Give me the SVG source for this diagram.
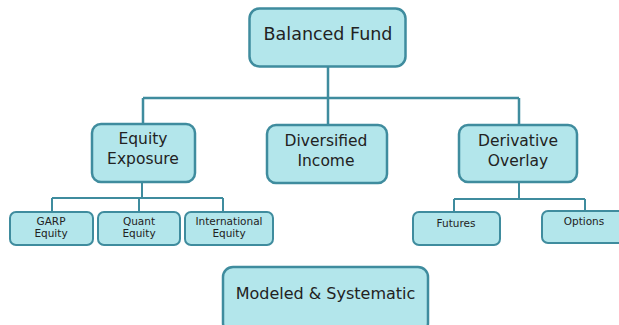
<svg xmlns="http://www.w3.org/2000/svg" width="619" height="325" viewBox="0 0 619 325">
<style>
.box{fill:#b3e6eb;stroke:#3f8c9e;stroke-width:2.5}
.sbox{fill:#b3e6eb;stroke:#3f8c9e;stroke-width:2}
.ln{fill:none;stroke:#3f8c9e;stroke-width:2.5}
.sln{fill:none;stroke:#3f8c9e;stroke-width:2}
text{font-family:"DejaVu Sans",Verdana,sans-serif;fill:#222;text-anchor:middle}
.t1{font-size:17.5px}
.t2{font-size:15.5px}
.t3{font-size:10.5px}
.t4{font-size:16px}
</style>
<rect width="619" height="325" fill="#fff"/>
<g id="connectors">
<path class="ln" d="M328 67V98M143 98H519M143 98V124M328 98V125M519 98V125"/>
<path class="sln" d="M142 182V198M52 198H223M52 198V212M139 198V212M223 198V212"/>
<path class="sln" d="M519 182V199M454 199H585M454 199V212M585 199V211"/>
</g>
<g id="balanced-fund"><rect class="box" x="249.5" y="8.5" width="156" height="58" rx="10"/><text class="t1" x="328" y="40">Balanced Fund</text></g>
<g id="equity-exposure"><rect class="box" x="92" y="124" width="103" height="58" rx="9"/><text class="t2" x="143" y="144">Equity</text><text class="t2" x="143" y="164">Exposure</text></g>
<g id="diversified-income"><rect class="box" x="267" y="125" width="120" height="58" rx="9"/><text class="t2" x="326" y="146">Diversified</text><text class="t2" x="326" y="166">Income</text></g>
<g id="derivative-overlay"><rect class="box" x="459" y="125" width="118" height="57" rx="9"/><text class="t2" x="518" y="146">Derivative</text><text class="t2" x="518" y="166">Overlay</text></g>
<g id="garp-equity"><rect class="sbox" x="10" y="212" width="83" height="33" rx="6"/><text class="t3" x="51" y="225">GARP</text><text class="t3" x="51" y="237">Equity</text></g>
<g id="quant-equity"><rect class="sbox" x="98" y="212" width="82" height="33" rx="6"/><text class="t3" x="139" y="225">Quant</text><text class="t3" x="139" y="237">Equity</text></g>
<g id="international-equity"><rect class="sbox" x="185" y="212" width="88" height="33" rx="6"/><text class="t3" x="229" y="225">International</text><text class="t3" x="229" y="237">Equity</text></g>
<g id="futures"><rect class="sbox" x="413" y="212" width="87" height="33" rx="6"/><text class="t3" x="456" y="227">Futures</text></g>
<g id="options"><rect class="sbox" x="542" y="211" width="82" height="32" rx="6"/><text class="t3" x="584" y="225">Options</text></g>
<g id="modeled-systematic"><rect class="box" x="223" y="267" width="205" height="66" rx="10"/><text class="t4" x="325.5" y="299">Modeled &amp; Systematic</text></g>
</svg>
